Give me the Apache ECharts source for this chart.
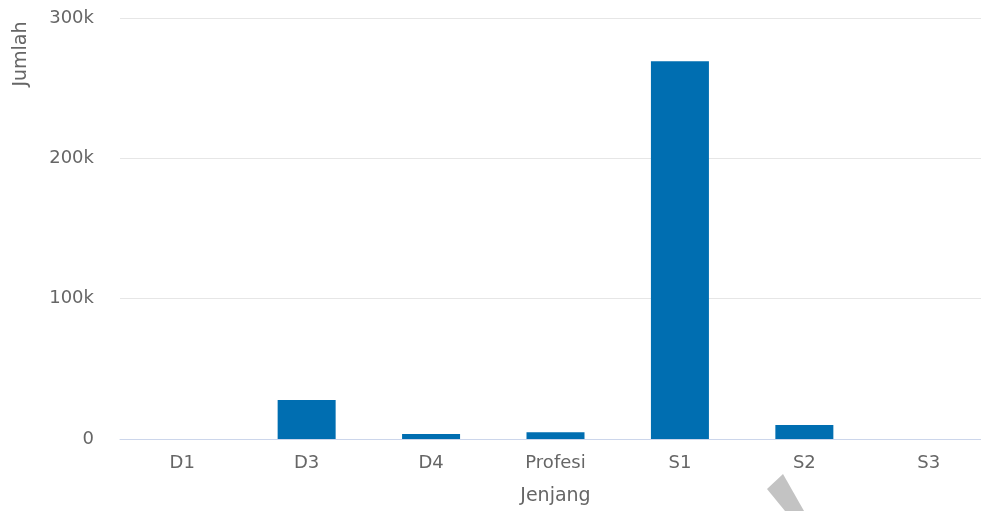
<!DOCTYPE html>
<html>
<head>
<meta charset="utf-8">
<script src="https://cdn.jsdelivr.net/npm/echarts@6/dist/echarts.min.js"></script>
<style>
  html, body { margin: 0; padding: 0; background: #fff; }
  #chart { width: 981px; height: 511px; }
</style>
</head>
<body>
<div id="chart"></div>
<script>
// jenjang (education level) vs jumlah
const categories = ["D1", "D3", "D4", "Profesi", "S1", "S2", "S3"];
const jumlah = [0, 27800, 3600, 4800, 269200, 10000, 0];
const yTicks = [0, 100000, 200000, 300000];

const chart = echarts.init(document.getElementById("chart"));
const font = "DejaVu Sans";

chart.setOption({
  animation: false,
  grid: {
    left: 120,
    top: 18,
    width: 871,
    height: 421,
    containLabel: false,
    outerBoundsMode: "none",
  },
  xAxis: {
    type: "category",
    data: categories,
    name: "Jenjang",
    nameLocation: "middle",
    nameGap: 48,
    nameTextStyle: { color: "#666", fontFamily: font, fontSize: 19 },
    axisLine: { lineStyle: { color: "#ccd6eb", width: 1 } },
    axisTick: { show: false },
    axisLabel: { color: "#666", fontFamily: font, fontSize: 18, margin: 15, interval: 0 },
  },
  yAxis: {
    type: "value",
    min: yTicks[0],
    max: yTicks[yTicks.length - 1],
    interval: yTicks[1] - yTicks[0],
    axisLine: { show: false },
    axisTick: { show: false },
    splitLine: { lineStyle: { color: "#e6e6e6", width: 1 } },
    axisLabel: {
      color: "#666",
      fontFamily: font,
      fontSize: 18,
      margin: 26,
      formatter: (v) => (v === 0 ? "0" : v / 1000 + "k"),
    },
  },
  series: [
    {
      type: "bar",
      data: jumlah,
      barWidth: 58,
      itemStyle: { color: "#006eb1" },
    },
  ],
  graphic: [
    {
      type: "text",
      x: 21,
      y: 54,
      rotation: Math.PI / 2,
      style: {
        text: "Jumlah",
        fill: "#666",
        font: "19px " + font,
        textAlign: "center",
        textVerticalAlign: "middle",
      },
    },
    {
      // grey stroke over the bottom edge
      type: "polygon",
      shape: { points: [[767, 489], [783, 474], [804, 511], [785, 511]] },
      style: { fill: "#c3c3c3" },
    },
  ],
});
</script>
</body>
</html>
